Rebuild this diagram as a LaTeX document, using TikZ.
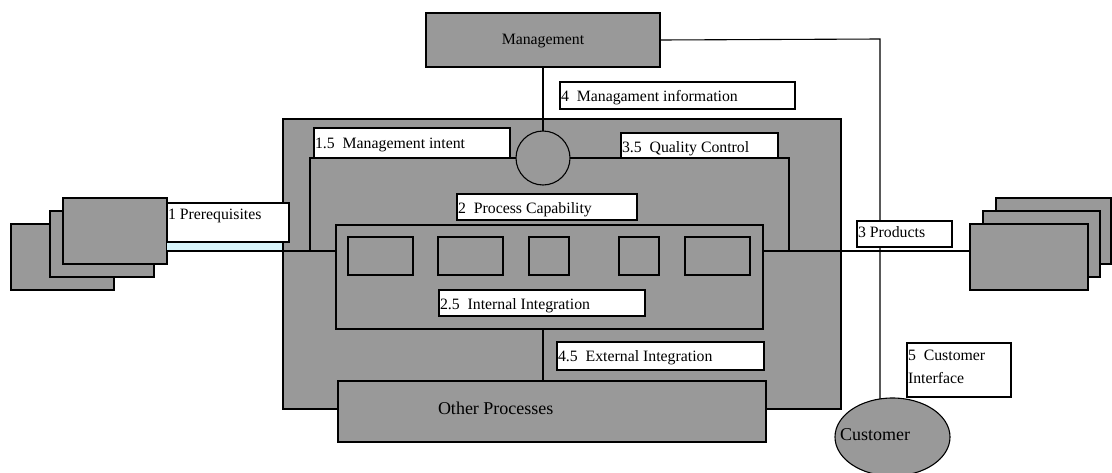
\documentclass[tikz,border=0pt]{standalone}
\usepackage{fontspec}
\setmainfont{Liberation Serif}
\usetikzlibrary{shapes.geometric}
\definecolor{boxgray}{HTML}{999999}
\definecolor{bandcyan}{HTML}{D8F4FA}
\tikzset{
  every node/.style={inner sep=0pt, outer sep=0pt},
  graybox/.style={draw=black, fill=boxgray, line width=1.1pt},
  labelbox/.style={draw=black, fill=white, line width=1.1pt},
  wire/.style={draw=black, line width=1.1pt},
  lbl/.style={anchor=base west, font=\fontsize{15.8}{18}\selectfont},
  bigtxt/.style={anchor=base west, font=\fontsize{18}{21}\selectfont}
}
% rectangle node given by its top-left and bottom-right corners
\newcommand\rbox[6]{\node[#2, anchor=north west, minimum width=#5pt-#3pt, minimum height=#6pt-#4pt] (#1) at (#3,#4) {};}
\begin{document}
\begin{tikzpicture}[x=1pt,y=-1pt]
\clip (0,0) rectangle (1112,472);
% stacked inputs on the left
\rbox{pA}{graybox}{11}{224}{114}{290}
\rbox{pB}{graybox}{50}{211}{154}{277}
\rbox{pC}{graybox}{63}{198}{167}{264}
% stacked outputs on the right
\rbox{qA}{graybox}{996}{198}{1111}{264}
\rbox{qB}{graybox}{983}{211}{1100}{277}
\rbox{qC}{graybox}{970}{224}{1088}{290}
% input band
\rbox{band}{fill=bandcyan}{167}{242}{284}{251}
% the organisation unit
\rbox{unit}{graybox}{283}{119}{841}{409}
\rbox{cap}{graybox}{310}{158}{789}{251}
% main flow from inputs to outputs
\coordinate (flowL) at (167,251);
\coordinate (flowR) at (970,251);
\draw[wire] (flowL) -- (flowR);
% internal process chain
\rbox{inner}{graybox}{336}{225}{763}{329}
\rbox{s1}{graybox}{348}{237}{413}{275}
\rbox{s2}{graybox}{438}{237}{503}{275}
\rbox{s3}{graybox}{529}{237}{569}{275}
\rbox{s4}{graybox}{619}{237}{659}{275}
\rbox{s5}{graybox}{685}{237}{750}{275}
% management and its information hub
\rbox{mgmt}{graybox}{426}{13}{660}{67}
\node[anchor=base, font=\fontsize{15.8}{18}\selectfont] (mgmtT) at (543,44) {Management};
\node[circle, graybox, minimum size=54pt] (hub) at (543,158) {};
\draw[wire] (mgmt.south) -- (hub.north);
% other processes
\rbox{other}{graybox}{338}{381}{766}{442}
\draw[wire] (hub.center |- inner.south) -- (hub.center |- other.north);
\node[bigtxt] (otherT) at (438,414) {Other Processes};
% customer
\coordinate (turn) at (880,39);
\draw[wire] (mgmt.east) -- (turn) -- (880,399);
\node[ellipse, graybox, minimum width=115pt, minimum height=78pt] (cust) at (892.5,437) {};
\node[bigtxt] (custT) at (840,440) {Customer};
% labels
\rbox{preL}{labelbox}{167}{203}{289}{242}
\node[lbl] (preT) at (168,219) {1 Prerequisites};
\rbox{intentL}{labelbox}{314}{128}{510}{158}
\node[lbl] (intentT) at (315,148) {1.5\ \ Management intent};
\rbox{infoL}{labelbox}{560}{82}{795}{109}
\node[lbl] (infoT) at (561,101) {4\ \ Managament information};
\rbox{qualL}{labelbox}{621}{133}{778}{158}
\node[lbl] (qualT) at (622,152) {3.5\ \ Quality Control};
\rbox{capL}{labelbox}{457}{194}{637}{220}
\node[lbl] (capT) at (458,213) {2\ \ Process Capability};
\rbox{intL}{labelbox}{439}{290}{645}{316}
\node[lbl] (intT) at (440,309) {2.5\ \ Internal Integration};
\rbox{extL}{labelbox}{557}{342}{764}{370}
\node[lbl] (extT) at (558,361) {4.5\ \ External Integration};
\rbox{prodL}{labelbox}{857}{221}{952}{247}
\node[lbl] (prodT) at (858,237) {3 Products};
\rbox{ciL}{labelbox}{907}{343}{1011}{397}
\node[lbl] (ciT1) at (908,360) {5\ \ Customer};
\node[lbl] (ciT2) at (908,383) {Interface};
\end{tikzpicture}
\end{document}
